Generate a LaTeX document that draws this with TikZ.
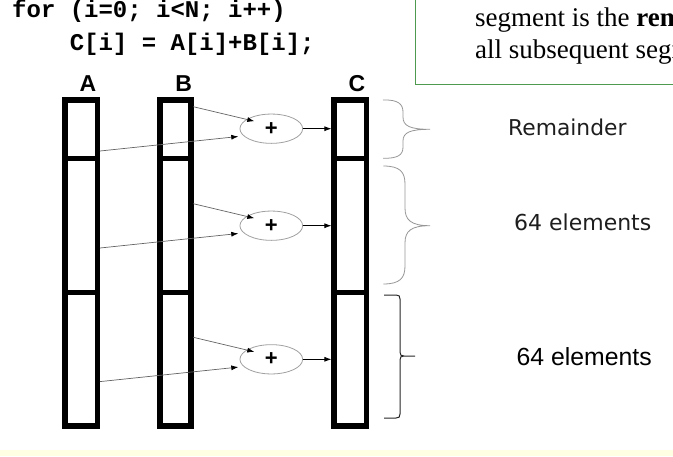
\documentclass[tikz,border=0pt]{standalone}
\usepackage{fontspec}
\setmainfont{Liberation Serif}
\newfontfamily\codefont{Liberation Mono}
\newfontfamily\arialfont{Liberation Sans}
\newfontfamily\dejafont{DejaVu Sans}
\usetikzlibrary{arrows.meta,calc,shapes.geometric}
\definecolor{boxgreen}{RGB}{78,154,78}
\definecolor{yband}{RGB}{255,255,228}
\definecolor{ellgray}{RGB}{160,160,160}
\definecolor{argray}{RGB}{100,100,100}
\definecolor{brgray}{RGB}{150,150,150}
\definecolor{txtgray}{RGB}{30,30,30}
\begin{document}
\begin{tikzpicture}[x=1pt,y=-1pt,
  seg/.style={draw=black,line width=5.5pt,inner sep=0pt,outer sep=2.75pt},
  op/.style={ellipse,draw=ellgray,line width=0.8pt,inner sep=0pt,outer sep=0pt,
    minimum width=62.7pt,minimum height=29.3pt,font=\arialfont\bfseries\fontsize{22}{22}\selectfont},
  garr/.style={draw=argray,line width=0.7pt,-{Latex[length=7pt,width=5pt,color=black]}},
  karr/.style={draw=black,line width=0.8pt,-{Latex[length=7pt,width=5pt]}},
  collabel/.style={anchor=base,inner sep=0pt,font=\arialfont\bfseries\fontsize{23}{23}\selectfont},
  codetxt/.style={anchor=base west,inner sep=0pt,font=\codefont\bfseries\fontsize{24}{24}\selectfont},
  notetxt/.style={anchor=base west,inner sep=0pt,font=\fontsize{27}{27}\selectfont},
  sizetxt/.style={anchor=base west,inner sep=0pt},
  brace/.style={draw=brgray,line width=0.8pt},
  dbrace/.style={draw=black!85,line width=1pt}
]
\useasboundingbox (0,0) rectangle (673,456);
\clip (0,0) rectangle (673,456);
\fill[yband] (0,450) rectangle (673,456);

% note box (partly outside)
\draw[boxgreen,line width=1.2pt] (415.7,-20) -- (415.7,84.3) -- (700,84.3);
\node[notetxt] (n1) at (475,26.5) {segment is the \textbf{remainder}};
\node[notetxt] (n2) at (475,58) {all subsequent segments};

% code
\node[codetxt] (code1) at (12,17) {for (i=0; i<N; i++)};
\node[codetxt] (code2) at (69.6,50.7) {C[i] = A[i]+B[i];};

% column labels
\node[collabel] (la) at (88,91.7) {A};
\node[collabel] (lb) at (183.7,91.7) {B};
\node[collabel] (lc) at (357,91.7) {C};

% columns
\foreach \n/\cx/\w in {A/81.25/32.5, B/175.5/30.6, C/350.35/32.3}{
  \node[seg,minimum width=\w pt,minimum height=58.3pt] (\n1) at (\cx,129.35) {};
  \node[seg,minimum width=\w pt,minimum height=134pt] (\n2) at (\cx,225.5) {};
  \node[seg,minimum width=\w pt,minimum height=133.3pt] (\n3) at (\cx,359.15) {};
}

% adders
\foreach \i/\cy in {1/128.7,2/225.7,3/359.3}{
  \node[op] (p\i) at (271.3,\cy) {+};
  \coordinate (b\i) at (193.3,\cy-22);
  \coordinate (a\i) at (100,\cy+22.3);
  \coordinate (tb\i) at ($(p\i.center)+(-17,-7.5)$);
  \coordinate (ta\i) at ($(p\i.center)+(-33,7.8)$);
  \draw[garr] (b\i) -- (tb\i);
  \draw[garr] (a\i) -- (ta\i);
  \draw[karr] (p\i.east) -- (p\i.east -| C\i.west);
}

% braces
\draw[brace] (383,100) .. controls (398,99.5) and (403,104) .. (403,112)
  -- (403,117) .. controls (403,126) and (410,129.3) .. (430,129.3)
  .. controls (410,129.3) and (403,132.5) .. (403,141)
  -- (403,147) .. controls (403,155) and (398,158.5) .. (383,158.3);
\draw[brace] (383.3,166) .. controls (400,166) and (405,172) .. (405,184)
  -- (405,208) .. controls (405,220) and (411,225.7) .. (430,225.7)
  .. controls (411,225.7) and (405,231) .. (405,243)
  -- (405,266) .. controls (405,278) and (400,284) .. (383.3,284);
\draw[dbrace] (384,295) -- (396,295) .. controls (399,295) and (400,296) .. (400,299)
  -- (400,352) .. controls (400,355) and (401,356) .. (404,356) -- (415,356)
  (404,356) .. controls (401,356) and (400,357) .. (400,360)
  -- (400,414) .. controls (400,417) and (399,418) .. (396,418) -- (384,418);

% size labels
\node[sizetxt,text=txtgray,font=\dejafont\fontsize{21.8}{21.8}\selectfont] (rem) at (508,135) {Remainder};
\node[sizetxt,text=txtgray,font=\dejafont\fontsize{22}{22}\selectfont] (s64a) at (514,230.7) {64 elements};
\node[sizetxt,text=black,font=\arialfont\fontsize{24.8}{24.8}\selectfont] (s64b) at (516.5,365) {64 elements};
\end{tikzpicture}
\end{document}
